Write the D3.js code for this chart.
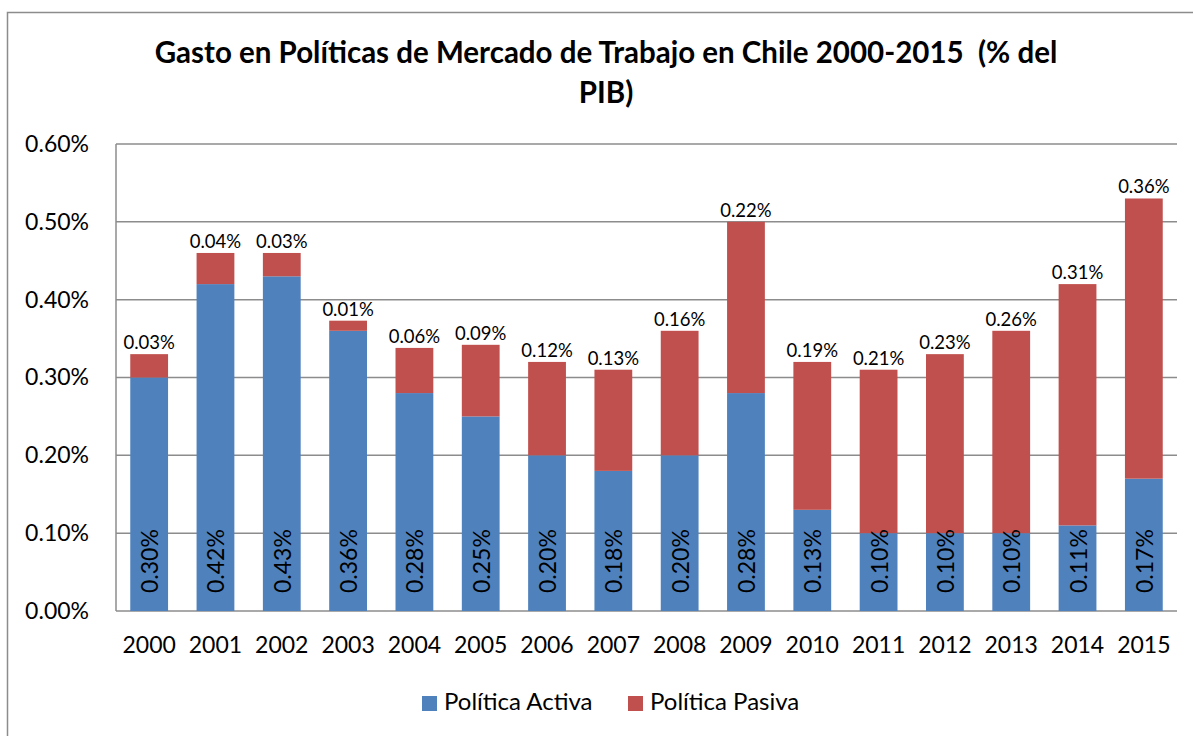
<!DOCTYPE html>
<html>
<head>
<meta charset="utf-8">
<script src="https://cdn.jsdelivr.net/npm/d3@7"></script>
<style>
  body { margin: 0; background: #fff; }
  svg { display: block; font-family: Lato, "Liberation Sans", sans-serif; }
</style>
</head>
<body>
<div id="chart"></div>
<script>
/* Gasto en Políticas de Mercado de Trabajo — stacked bars, % del PIB */
const years = ["2000", "2001", "2002", "2003", "2004", "2005", "2006", "2007",
  "2008", "2009", "2010", "2011", "2012", "2013", "2014", "2015"];
const activa = [0.30, 0.42, 0.43, 0.36, 0.28, 0.25, 0.20, 0.18,
  0.20, 0.28, 0.13, 0.10, 0.10, 0.10, 0.11, 0.17];
const pasiva = [0.03, 0.04, 0.03, 0.013, 0.058, 0.092, 0.12, 0.13,
  0.16, 0.22, 0.19, 0.21, 0.23, 0.26, 0.31, 0.36];
const yTicks = [0, 0.1, 0.2, 0.3, 0.4, 0.5, 0.6];
const seriesNames = ["Política Activa", "Política Pasiva"];

const COLOR = { activa: "#4F81BD", pasiva: "#C0504D" };

const W = 1193, H = 736;
const margin = { top: 144, right: 16, bottom: 125, left: 116 };
const w = W - margin.left - margin.right;
const h = H - margin.top - margin.bottom;

const svg = d3.select("#chart").append("svg")
  .attr("width", W).attr("height", H);

/* outer chart frame */
svg.append("rect").attr("x", 7.5).attr("y", 12.5)
  .attr("width", W).attr("height", H)
  .attr("fill", "none").attr("stroke", "#8c8c8c").attr("stroke-width", 1.5);

/* title, two lines */
const title = svg.append("text").attr("text-anchor", "middle")
  .style("font-size", "29.5px").style("font-weight", "bold").style("fill", "#000")
  .style("white-space", "pre");
title.append("tspan").attr("x", 606).attr("y", 63)
  .text("Gasto en Políticas de Mercado de Trabajo en Chile 2000-2015  (% del");
title.append("tspan").attr("x", 606).attr("y", 103).text("PIB)");

const g = svg.append("g").attr("transform", `translate(${margin.left},${margin.top})`);

const x = d3.scaleBand().domain(years).range([0, w]).paddingInner(0.43).paddingOuter(0.215);
const y = d3.scaleLinear().domain([0, 0.6]).range([h, 0]);

/* gridlines */
g.append("g").selectAll("line").data(yTicks).enter().append("line")
  .attr("x1", 0).attr("x2", w)
  .attr("y1", d => y(d)).attr("y2", d => y(d))
  .attr("stroke", "#8c8c8c").attr("stroke-width", 1.5);

/* y axis */
const yAxis = g.append("g")
  .call(d3.axisLeft(y).tickValues(yTicks).tickSize(0).tickPadding(27)
    .tickFormat(d => d.toFixed(2) + "%"));
yAxis.select(".domain").remove();
yAxis.selectAll("text").style("font-size", "23px").style("fill", "#000")
  .style("font-family", "Lato, 'Liberation Sans', sans-serif");
g.append("line").attr("x1", 0).attr("x2", 0).attr("y1", 0).attr("y2", h)
  .attr("stroke", "#8c8c8c").attr("stroke-width", 1.5);

/* x axis */
const xAxis = g.append("g").attr("transform", `translate(0,${h})`)
  .call(d3.axisBottom(x).tickSize(0).tickPadding(26));
xAxis.select(".domain").remove();
xAxis.selectAll("text").style("font-size", "23px").style("fill", "#000")
  .style("font-family", "Lato, 'Liberation Sans', sans-serif");

const rows = years.map((yr, i) => ({ year: yr, activa: activa[i], pasiva: pasiva[i] }));

/* bars */
g.selectAll(".bar-a").data(rows).enter().append("rect").attr("class", "bar-a")
  .attr("x", d => x(d.year)).attr("width", x.bandwidth())
  .attr("y", d => y(d.activa)).attr("height", d => h - y(d.activa))
  .attr("fill", COLOR.activa);

g.selectAll(".bar-p").data(rows).enter().append("rect").attr("class", "bar-p")
  .attr("x", d => x(d.year)).attr("width", x.bandwidth())
  .attr("y", d => y(d.activa + d.pasiva))
  .attr("height", d => y(d.activa) - y(d.activa + d.pasiva))
  .attr("fill", COLOR.pasiva);

/* labels: passive on top, active rotated inside */
g.selectAll(".lbl-p").data(rows).enter().append("text").attr("class", "lbl-p")
  .attr("x", d => x(d.year) + x.bandwidth() / 2)
  .attr("y", d => y(d.activa + d.pasiva) - 5)
  .attr("text-anchor", "middle")
  .style("font-size", "18.5px").style("fill", "#000")
  .text(d => d.pasiva.toFixed(2) + "%");

g.selectAll(".lbl-a").data(rows).enter().append("text").attr("class", "lbl-a")
  .attr("transform", d => `translate(${x(d.year) + x.bandwidth() / 2},${h - 18}) rotate(-90)`)
  .attr("text-anchor", "start").attr("dominant-baseline", "central")
  .style("font-size", "23px").style("fill", "#000")
  .text(d => d.activa.toFixed(2) + "%");

/* legend */
const legItems = [
  { name: seriesNames[0], color: COLOR.activa, x: 422 },
  { name: seriesNames[1], color: COLOR.pasiva, x: 628 }
];
const leg = svg.append("g");
legItems.forEach(it => {
  leg.append("rect").attr("x", it.x).attr("y", 696).attr("width", 15).attr("height", 15)
    .attr("fill", it.color);
  leg.append("text").attr("x", it.x + 22).attr("y", 710)
    .style("font-size", "24px").style("fill", "#000").text(it.name);
});
</script>
</body>
</html>
